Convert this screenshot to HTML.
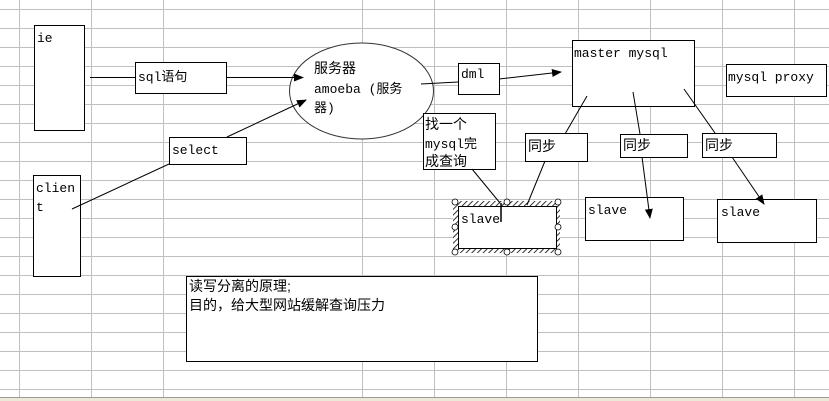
<!DOCTYPE html>
<html><head><meta charset="utf-8"><style>
html,body{margin:0;padding:0;background:#fff;}
svg{display:block;}
.m{font-family:"Liberation Mono","Noto Sans CJK SC",monospace;font-size:13px;fill:#000;}
.c{font-family:"Liberation Sans","Noto Sans CJK SC",sans-serif;font-size:14px;fill:#000;}
</style></head><body>
<svg width="829" height="401" viewBox="0 0 829 401" xmlns="http://www.w3.org/2000/svg">
<defs>
<pattern id="h" width="4" height="4" patternUnits="userSpaceOnUse" patternTransform="rotate(45)">
<rect width="4" height="4" fill="#fff"/><line x1="0" y1="0" x2="0" y2="4" stroke="#000" stroke-width="1.6"/>
</pattern>
<marker id="a" markerWidth="10" markerHeight="8" refX="9" refY="4" orient="auto" markerUnits="userSpaceOnUse">
<path d="M0,0 L10,4 L0,8 z" fill="#000"/></marker>
</defs>
<g stroke="#c0c0c0" stroke-width="1">
<line x1="19.5" y1="0" x2="19.5" y2="397"/><line x1="91.5" y1="0" x2="91.5" y2="397"/>
<line x1="163.5" y1="0" x2="163.5" y2="397"/><line x1="362.5" y1="0" x2="362.5" y2="397"/>
<line x1="434.5" y1="0" x2="434.5" y2="397"/><line x1="506.5" y1="0" x2="506.5" y2="397"/>
<line x1="578.5" y1="0" x2="578.5" y2="397"/><line x1="650.5" y1="0" x2="650.5" y2="397"/>
<line x1="722.5" y1="0" x2="722.5" y2="397"/><line x1="794.5" y1="0" x2="794.5" y2="397"/>
<line x1="0" y1="9.5" x2="829" y2="9.5"/><line x1="0" y1="28.5" x2="829" y2="28.5"/>
<line x1="0" y1="47.5" x2="829" y2="47.5"/><line x1="0" y1="66.5" x2="829" y2="66.5"/>
<line x1="0" y1="85.5" x2="829" y2="85.5"/><line x1="0" y1="104.5" x2="829" y2="104.5"/>
<line x1="0" y1="123.5" x2="829" y2="123.5"/><line x1="0" y1="142.5" x2="829" y2="142.5"/>
<line x1="0" y1="161.5" x2="829" y2="161.5"/><line x1="0" y1="180.5" x2="829" y2="180.5"/>
<line x1="0" y1="199.5" x2="829" y2="199.5"/><line x1="0" y1="218.5" x2="829" y2="218.5"/>
<line x1="0" y1="237.5" x2="829" y2="237.5"/><line x1="0" y1="256.5" x2="829" y2="256.5"/>
<line x1="0" y1="275.5" x2="829" y2="275.5"/><line x1="0" y1="294.5" x2="829" y2="294.5"/>
<line x1="0" y1="313.5" x2="829" y2="313.5"/><line x1="0" y1="332.5" x2="829" y2="332.5"/>
<line x1="0" y1="351.5" x2="829" y2="351.5"/><line x1="0" y1="370.5" x2="829" y2="370.5"/>
<line x1="0" y1="389.5" x2="829" y2="389.5"/>
</g>
<rect x="0" y="397" width="829" height="4" fill="#ece9d8"/>
<line x1="0" y1="397.5" x2="829" y2="397.5" stroke="#999"/>

<g stroke="#000" stroke-width="1" fill="#fff">
<rect x="34.5" y="25.5" width="50" height="105"/>
<rect x="135.5" y="62.5" width="91" height="31"/>
<rect x="169.5" y="137.5" width="77" height="27"/>
<rect x="33.5" y="175.5" width="47" height="101"/>
<ellipse cx="361.5" cy="91" rx="72" ry="48" stroke="#333"/>
<rect x="458.5" y="63.5" width="41" height="31"/>
<rect x="572.5" y="40.5" width="122" height="66"/>
<rect x="726.5" y="64.5" width="100" height="32"/>
<rect x="423.5" y="113.5" width="72" height="56"/>
<rect x="525.5" y="133.5" width="62" height="28"/>
<rect x="620.5" y="134.5" width="67" height="23"/>
<rect x="702.5" y="133.5" width="74" height="24"/>
<rect x="585.5" y="197.5" width="98" height="43"/>
<rect x="717.5" y="199.5" width="99" height="43"/>
<rect x="453" y="201" width="107" height="52" fill="url(#h)" stroke="none"/>
<rect x="458.5" y="206.5" width="98" height="42"/>
<rect x="186.5" y="276.5" width="351" height="85"/>
</g>
<g stroke="#000" stroke-width="1" fill="none">
<line x1="90" y1="77.5" x2="135" y2="77.5"/>
<line x1="226" y1="77.5" x2="303" y2="77.5" marker-end="url(#a)"/>
<line x1="72" y1="209" x2="169" y2="164"/>
<line x1="227" y1="137" x2="306" y2="100" marker-end="url(#a)"/>
<line x1="421" y1="84" x2="458" y2="82"/>
<line x1="499" y1="79" x2="561" y2="72" marker-end="url(#a)"/>
<line x1="587" y1="96" x2="565" y2="134"/>
<line x1="545" y1="161" x2="527" y2="205"/>
<line x1="633" y1="92" x2="640" y2="134"/>
<line x1="642" y1="157" x2="650" y2="218" marker-end="url(#a)"/>
<line x1="684" y1="89" x2="715" y2="133"/>
<line x1="732" y1="157" x2="764" y2="204" marker-end="url(#a)"/>
<line x1="472" y1="169" x2="500" y2="203"/>
</g>
<line x1="501" y1="203" x2="501" y2="222" stroke="#000" stroke-width="1.5"/>
<g fill="#fff" stroke="#000" stroke-width="0.8">
<circle cx="455" cy="202" r="3"/><circle cx="507" cy="202" r="3"/><circle cx="558" cy="202" r="3"/>
<circle cx="455" cy="227" r="3"/><circle cx="558" cy="227" r="3"/>
<circle cx="455" cy="252" r="3"/><circle cx="507" cy="252" r="3"/><circle cx="558" cy="252" r="3"/>
</g>

<text class="m" x="37" y="42">ie</text>
<text class="m" x="138" y="81">sql语句</text>
<text class="m" x="172" y="154">select</text>
<text class="m" x="36" y="192">clien</text>
<text class="m" x="36" y="211">t</text>
<text class="c" x="314" y="73">服务器</text>
<text class="m" x="314" y="93">amoeba (服务</text>
<text class="m" x="314" y="112">器)</text>
<text class="m" x="461" y="78">dml</text>
<text class="m" x="574" y="57">master mysql</text>
<text class="m" x="728" y="81">mysql proxy</text>
<text class="c" x="425" y="129">找一个</text>
<text class="m" x="425" y="148">mysql完</text>
<text class="c" x="425" y="166">成查询</text>
<text class="c" x="528" y="151">同步</text>
<text class="c" x="623" y="150">同步</text>
<text class="c" x="705" y="150">同步</text>
<text class="m" x="461" y="223">slave</text>
<text class="m" x="588" y="214">slave</text>
<text class="m" x="721" y="216">slave</text>
<text class="c" x="189" y="291">读写分离的原理;</text>
<text class="c" x="189" y="310">目的，给大型网站缓解查询压力</text>
</svg>
</body></html>
